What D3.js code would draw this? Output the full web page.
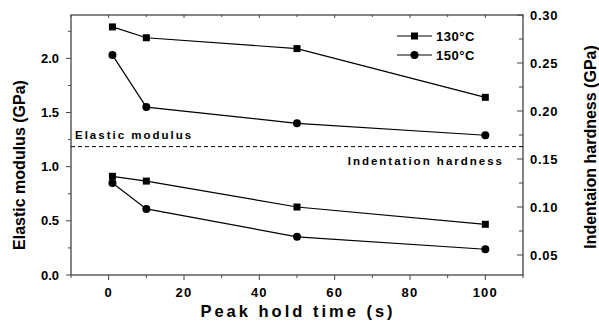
<!DOCTYPE html>
<html>
<head>
<meta charset="utf-8">
<script src="https://cdn.jsdelivr.net/npm/d3@7"></script>
<style>
  body { margin: 0; background: #fff; }
  text { font-family: "Liberation Sans", Arial, sans-serif; font-weight: bold; fill: #000; }
</style>
</head>
<body>
<div class="chart"></div>
<script>
const holdTimes = [1, 10, 50, 100];
const modulus130 = [2.29, 2.19, 2.09, 1.64];
const modulus150 = [2.03, 1.55, 1.40, 1.29];
const hardness130 = [0.132, 0.127, 0.100, 0.082];
const hardness150 = [0.125, 0.098, 0.069, 0.056];
const xTicks = [0, 20, 40, 60, 80, 100];
const leftTicks = [0.0, 0.5, 1.0, 1.5, 2.0];
const rightTicks = [0.05, 0.10, 0.15, 0.20, 0.25, 0.30];
const dividerValue = 1.185;
const seriesNames = ['130°C', '150°C'];

const config = { width: 599, height: 324, left: 71, right: 76, top: 15, bottom: 49 };
const innerW = config.width - config.left - config.right;
const innerH = config.height - config.top - config.bottom;

const svg = d3.select('.chart').append('svg')
  .attr('width', config.width)
  .attr('height', config.height);

const x = d3.scaleLinear().domain([-10, 110]).range([config.left, config.left + innerW]);
const yL = d3.scaleLinear().domain([0, 2.4]).range([config.top + innerH, config.top]);
const yR = d3.scaleLinear().domain([0.0292, 0.30]).range([config.top + innerH, config.top]);

const bottomY = config.top + innerH;
const rightX = config.left + innerW;

// frame
svg.append('rect')
  .attr('x', config.left).attr('y', config.top)
  .attr('width', innerW).attr('height', innerH)
  .attr('fill', 'none').attr('stroke', '#444').attr('stroke-width', 1.3);

// bottom axis (outward), top mirror (inward)
const xMinor = d3.range(-10, 111, 10);
svg.append('g').selectAll('line').data(xMinor).enter().append('line')
  .attr('x1', d => x(d)).attr('x2', d => x(d))
  .attr('y1', bottomY).attr('y2', d => bottomY + (d % 20 === 0 ? 5 : 3))
  .attr('stroke', '#444');
svg.append('g').selectAll('line').data(xMinor).enter().append('line')
  .attr('x1', d => x(d)).attr('x2', d => x(d))
  .attr('y1', config.top).attr('y2', d => config.top + (d % 20 === 0 ? 3 : 2))
  .attr('stroke', '#444');
svg.append('g').selectAll('text').data(xTicks).enter().append('text')
  .attr('x', d => x(d)).attr('y', 297)
  .attr('text-anchor', 'middle').attr('font-size', 13)
  .attr('letter-spacing', 1.2)
  .text(d => d);

// left axis (outward)
const leftMinor = d3.range(0, 2.41, 0.25);
svg.append('g').selectAll('line').data(leftMinor).enter().append('line')
  .attr('x1', config.left).attr('x2', (d, i) => config.left - (i % 2 === 0 ? 5 : 3))
  .attr('y1', d => yL(d)).attr('y2', d => yL(d))
  .attr('stroke', '#444');
svg.append('g').selectAll('text').data(leftTicks).enter().append('text')
  .attr('x', 59).attr('y', d => yL(d) + 4.5)
  .attr('text-anchor', 'end').attr('font-size', 13)
  .text(d => d.toFixed(1));

// right axis (inward ticks)
const rightMinor = d3.range(0.05, 0.301, 0.025);
svg.append('g').selectAll('line').data(rightMinor).enter().append('line')
  .attr('x1', rightX).attr('x2', (d, i) => rightX - (i % 2 === 0 ? 6 : 4))
  .attr('y1', d => yR(d)).attr('y2', d => yR(d))
  .attr('stroke', '#444');
svg.append('g').selectAll('text').data(rightTicks).enter().append('text')
  .attr('x', 530).attr('y', d => yR(d) + 4.5)
  .attr('text-anchor', 'start').attr('font-size', 13)
  .attr('letter-spacing', 0.7)
  .text(d => d.toFixed(2));

// axis titles
svg.append('text')
  .attr('transform', `translate(25,${config.top + innerH / 2 + 20}) rotate(-90)`)
  .attr('text-anchor', 'middle').attr('font-size', 16)
  .text('Elastic modulus (GPa)');
svg.append('text')
  .attr('transform', `translate(596,${config.top + innerH / 2 + 2}) rotate(-90)`)
  .attr('text-anchor', 'middle').attr('font-size', 16)
  .text('Indentaion hardness (GPa)');
svg.append('text')
  .attr('x', x(50) + 1).attr('y', 317)
  .attr('text-anchor', 'middle').attr('font-size', 16.5)
  .attr('letter-spacing', 3)
  .text('Peak hold time (s)');

// divider
svg.append('line')
  .attr('x1', config.left).attr('x2', rightX)
  .attr('y1', yL(dividerValue)).attr('y2', yL(dividerValue))
  .attr('stroke', '#000').attr('stroke-dasharray', '4,3');
svg.append('text')
  .attr('x', 75).attr('y', yL(dividerValue) - 8)
  .attr('font-size', 11.5).attr('letter-spacing', 2)
  .text('Elastic modulus');
svg.append('text')
  .attr('x', 504).attr('y', yL(dividerValue) + 18)
  .attr('text-anchor', 'end').attr('font-size', 11.5).attr('letter-spacing', 2)
  .text('Indentation hardness');

// series
const lineL = d3.line().x((d, i) => x(holdTimes[i])).y(d => yL(d));
const lineR = d3.line().x((d, i) => x(holdTimes[i])).y(d => yR(d));

function drawSeries(values, lineGen, scale, shape) {
  svg.append('path')
    .attr('d', lineGen(values))
    .attr('fill', 'none').attr('stroke', '#000').attr('stroke-width', 1.2);
  const g = svg.append('g');
  if (shape === 'square') {
    g.selectAll('rect').data(values).enter().append('rect')
      .attr('x', (d, i) => x(holdTimes[i]) - 3.5)
      .attr('y', d => scale(d) - 3.5)
      .attr('width', 7).attr('height', 7)
      .attr('fill', '#000');
  } else {
    g.selectAll('circle').data(values).enter().append('circle')
      .attr('cx', (d, i) => x(holdTimes[i]))
      .attr('cy', d => scale(d))
      .attr('r', 4)
      .attr('fill', '#000');
  }
}

drawSeries(modulus130, lineL, yL, 'square');
drawSeries(modulus150, lineL, yL, 'circle');
drawSeries(hardness130, lineR, yR, 'square');
drawSeries(hardness150, lineR, yR, 'circle');

// legend
const legend = svg.append('g');
seriesNames.forEach((name, i) => {
  const ly = 36 + i * 19;
  legend.append('line')
    .attr('x1', 397).attr('x2', 432).attr('y1', ly).attr('y2', ly)
    .attr('stroke', '#000').attr('stroke-width', 1.2);
  if (i === 0) {
    legend.append('rect').attr('x', 411).attr('y', ly - 3.5)
      .attr('width', 7).attr('height', 7).attr('fill', '#000');
  } else {
    legend.append('circle').attr('cx', 414.5).attr('cy', ly).attr('r', 4).attr('fill', '#000');
  }
  legend.append('text')
    .attr('x', 436).attr('y', ly + 4.5)
    .attr('font-size', 13).attr('letter-spacing', 0.5)
    .text(name);
});
</script>
</body>
</html>
